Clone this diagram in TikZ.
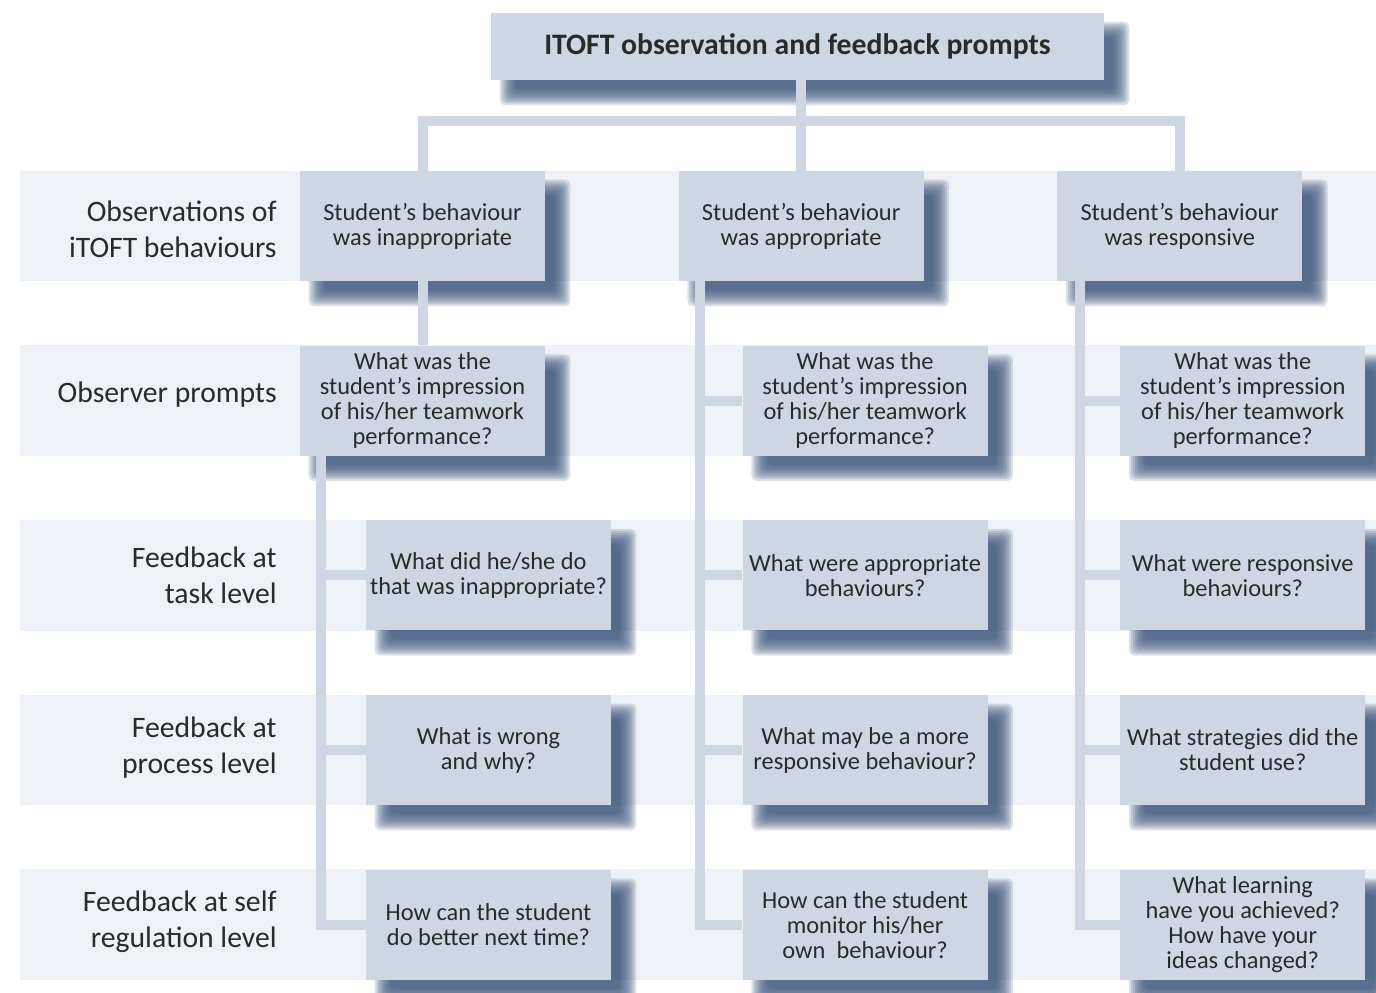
\documentclass[tikz,border=0pt]{standalone}
\usepackage{fontspec}
\setmainfont{Carlito}
\usetikzlibrary{positioning, calc}
\definecolor{boxfill}{HTML}{CED6E3}
\definecolor{bandfill}{HTML}{EEF1F6}
\definecolor{shadecol}{HTML}{395278}
\definecolor{inkgrey}{HTML}{2A2A2A}
\pgfdeclarelayer{bands}
\pgfdeclarelayer{shades}
\pgfdeclarelayer{links}
\pgfsetlayers{bands,shades,links,main}
% soft drop shadow under a box
\newcommand{\boxshade}[1]{%
  \foreach \k in {-4,...,4}{%
    \fill[shadecol, opacity=0.18, rounded corners=3pt]
      ($(#1.south west)+({17-2*\k},{17+2*\k})$) rectangle
      ($(#1.north east)+({17+2*\k},{17-2*\k})$);
  }%
}

\begin{document}
\begin{tikzpicture}[x=0.02cm, y=-0.02cm,
        node distance=1.28cm and 2.66cm,
        prompt/.style={rectangle, fill=boxfill, minimum width=4.9cm, minimum height=2.2cm, align=center, inner sep=2pt, text=inkgrey, font=\fontsize{13.9}{14.2}\selectfont},
        titlebox/.style={rectangle, fill=boxfill, minimum width=12.26cm, minimum height=1.34cm, text=inkgrey, font=\fontsize{16.9}{19}\selectfont\bfseries},
        rowlabel/.style={anchor=east, align=right, inner sep=0pt, text=inkgrey, font=\fontsize{16.9}{20.5}\selectfont},
        link/.style={draw=boxfill, line width=0.2cm},
    ]
    \useasboundingbox (0,0) rectangle (1376,992);

    % Titolo
    \node[titlebox] (title) at (797.5,46.5) {ITOFT observation and feedback prompts};

    % Osservazioni
    \node[prompt] (inap) at (422.5,226) {Student’s behaviour\\was inappropriate};
    \node[prompt, right=of inap] (app) {Student’s behaviour\\was appropriate};
    \node[prompt, right=of app] (resp) {Student’s behaviour\\was responsive};

    % Colonna 1
    \node[prompt, below=of inap] (impA) {What was the\\student’s impression\\of his/her teamwork\\performance?};
    \node[prompt, below=of impA, xshift=1.32cm] (taskA) {What did he/she do\\that was inappropriate?};
    \node[prompt, below=of taskA] (procA) {What is wrong\\and why?};
    \node[prompt, below=of procA] (selfA) {How can the student\\do better next time?};

    % Colonna 2
    \node[prompt, below=of app, xshift=1.28cm] (impB) {What was the\\student’s impression\\of his/her teamwork\\performance?};
    \node[prompt, below=of impB] (taskB) {What were appropriate\\behaviours?};
    \node[prompt, below=of taskB] (procB) {What may be a more\\responsive behaviour?};
    \node[prompt, below=of procB] (selfB) {How can the student\\monitor his/her\\own\ \ behaviour?};

    % Colonna 3
    \node[prompt, below=of resp, xshift=1.26cm] (impC) {What was the\\student’s impression\\of his/her teamwork\\performance?};
    \node[prompt, below=of impC] (taskC) {What were responsive\\behaviours?};
    \node[prompt, below=of taskC] (procC) {What strategies did the\\student use?};
    \node[prompt, below=of procC] (selfC) {What learning\\have you achieved?\\How have your\\ideas changed?};

    % Etichette delle righe
    \node[rowlabel, yshift=-0.06cm] (labObs) at (277,0 |- inap) {Observations of\\iTOFT behaviours};
    \node[rowlabel, yshift=0.12cm] (labPrm) at (277,0 |- impA) {Observer prompts};
    \node[rowlabel] (labTask) at (277,0 |- taskA) {Feedback at\\task level};
    \node[rowlabel, yshift=0.04cm] (labProc) at (277,0 |- procA) {Feedback at\\process level};
    \node[rowlabel, yshift=0.06cm] (labSelf) at (277,0 |- selfA) {Feedback at self\\regulation level};

    % Fasce
    \begin{pgfonlayer}{bands}
        \foreach \r in {inap,impA,taskA,procA,selfA}
            \fill[bandfill] (20,0 |- \r.north) rectangle (1376,0 |- \r.south);
    \end{pgfonlayer}

    % Ombre
    \begin{pgfonlayer}{shades}
        \foreach \n in {title,inap,app,resp,impA,taskA,procA,selfA,impB,taskB,procB,selfB,impC,taskC,procC,selfC}
            {\boxshade{\n}}
    \end{pgfonlayer}

    % Collegamenti
    \begin{pgfonlayer}{links}
        \coordinate (hub) at (800,121);
        \draw[link] (app.north) -- (app.north |- title.south);
        \draw[link] (inap.north) |- (hub) -| (resp.north);
        \draw[link] (inap) -- (impA);

        \coordinate (spineA) at (321,0 |- impA.south);
        \draw[link] (spineA) |- (selfA.west);
        \draw[link] (spineA |- taskA) -- (taskA.west);
        \draw[link] (spineA |- procA) -- (procA.west);

        \coordinate (spineB) at (700,0 |- app.south);
        \draw[link] (spineB) |- (selfB.west);
        \draw[link] (spineB |- impB) -- (impB.west);
        \draw[link] (spineB |- taskB) -- (taskB.west);
        \draw[link] (spineB |- procB) -- (procB.west);

        \coordinate (spineC) at (1080,0 |- resp.south);
        \draw[link] (spineC) |- (selfC.west);
        \draw[link] (spineC |- impC) -- (impC.west);
        \draw[link] (spineC |- taskC) -- (taskC.west);
        \draw[link] (spineC |- procC) -- (procC.west);
    \end{pgfonlayer}
\end{tikzpicture}
\end{document}
